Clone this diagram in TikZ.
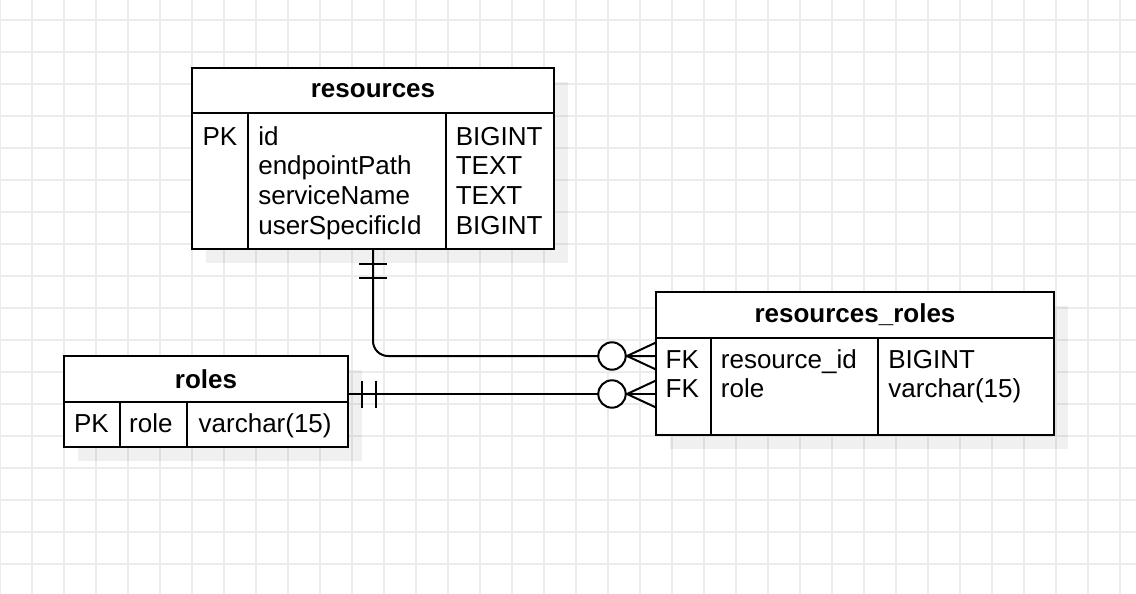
\documentclass[tikz,border=0pt]{standalone}
\usepackage{fontspec}
\setmainfont{Liberation Sans}
\usepackage{tikz}
\usetikzlibrary{positioning,shadows,calc}
\definecolor{gridgray}{RGB}{236,236,236}

\begin{document}
\begin{tikzpicture}[x=1pt,y=-1pt,line width=2pt,
    every node/.style={font=\fontsize{26}{29.7}\selectfont},
    tblhead/.style={draw,fill=white,anchor=north west,inner sep=0pt,outer sep=0pt,
      font=\fontsize{26}{29.7}\selectfont\bfseries,
      drop shadow={shadow xshift=14pt,shadow yshift=-14pt,fill=black,opacity=0.06}},
    tblbody/.style={draw,fill=white,inner sep=0pt,outer sep=0pt,
      drop shadow={shadow xshift=14pt,shadow yshift=-14pt,fill=black,opacity=0.06}},
    cell/.style={anchor=base west,align=left,inner sep=0pt}]
    \useasboundingbox (0,0) rectangle (1136,594);

    \foreach \gx in {0,32,...,1120} \draw[gridgray,line width=1.2pt] (\gx,0) -- (\gx,594);
    \foreach \gy in {20,52,...,564} \draw[gridgray,line width=1.2pt] (0,\gy) -- (1136,\gy);

    % resources (base of a cell is its last line)
    \node[tblhead,minimum width=362,minimum height=45] (resH) at (192,68) {resources};
    \node[tblbody,minimum width=362,minimum height=136,below=0pt of resH] (resB) {};
    \draw (248.3,113) -- (248.3,249) (446,113) -- (446,249);
    \node[cell] (resKey) at (201.5,145) {PK};
    \node[cell] (resCols) at (257.3,234.1) {id\\endpointPath\\serviceName\\userSpecificId};
    \node[cell] (resTypes) at (454.8,234.1) {BIGINT\\TEXT\\TEXT\\BIGINT};

    % roles
    \node[tblhead,minimum width=284,minimum height=46] (rolesH) at (64,356) {roles};
    \node[tblbody,minimum width=284,minimum height=45,below=0pt of rolesH] (rolesB) {};
    \draw (120,402) -- (120,447) (187.3,402) -- (187.3,447);
    \node[cell] (rolesKey) at (73,432) {PK};
    \node[cell] (rolesCols) at (128.2,432) {role};
    \node[cell] (rolesTypes) at (197.7,432) {varchar(15)};

    % resources_roles
    \node[tblhead,minimum width=398,minimum height=46] (rrH) at (656,292) {resources\_roles};
    \node[tblbody,minimum width=398,minimum height=97,below=0pt of rrH] (rrB) {};
    \draw (710.7,338) -- (710.7,435) (878,338) -- (878,435);
    \node[cell] (rrKey) at (664.7,397.7) {FK\\FK};
    \node[cell] (rrCols) at (719.9,397.7) {resource\_id\\role};
    \node[cell] (rrTypes) at (887.4,397.7) {BIGINT\\varchar(15)};

    \coordinate (fk1) at ($(rrB.north west)+(0,18)$);
    \coordinate (fk2) at ($(rrB.north west)+(0,56)$);
    \coordinate (rk) at (rolesH.east |- fk2);

    \draw[rounded corners=15] (resB.south) |- (fk1);
    \draw (rk) -- (fk2);

    % one and only one
    \draw ($(resB.south)+(-14,15)$) -- ++(28,0) ($(resB.south)+(-14,29)$) -- ++(28,0);
    \draw ($(rk)+(14,-13.5)$) -- ++(0,27) ($(rk)+(28,-13.5)$) -- ++(0,27);

    % zero or many
    \foreach \c in {fk1,fk2} {
      \draw ($(\c)+(-29,0)$) -- ++(29,-13.5) ($(\c)+(-29,0)$) -- ++(29,13.5);
      \draw[fill=white] ($(\c)+(-44,0)$) circle[radius=13.7pt];
    }
\end{tikzpicture}
\end{document}
